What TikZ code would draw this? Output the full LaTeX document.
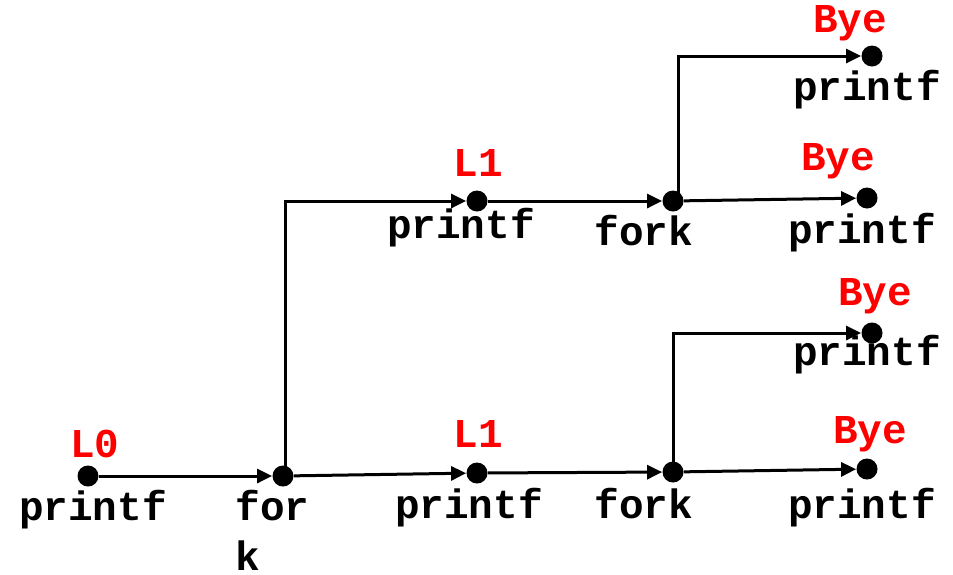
\documentclass[tikz,border=0pt]{standalone}
\usepackage{fontspec}
\setmonofont{Liberation Mono}
\usetikzlibrary{arrows.meta}
\tikzstyle{dot} = [circle, fill=black, draw=none, minimum size=10.5pt, inner sep=0pt]
\tikzstyle{fn} = [inner sep=0pt, anchor=base, font=\ttfamily\bfseries\fontsize{20.5pt}{25pt}\selectfont]
\tikzstyle{msg} = [fn, text=red]
\tikzstyle{arrow} = [line width=1.5pt, -{Triangle[length=7.5pt,width=7pt]}]

\begin{document}
\begin{tikzpicture}[x=0.5pt, y=-0.5pt]
\useasboundingbox (0,0) rectangle (953,574);

% dots
\node (p0) [dot] at (88,476) {};
\node (fk0) [dot] at (283,476) {};
\node (l1b) [dot] at (477,473) {};
\node (fkb) [dot] at (673,472) {};
\node (bye4) [dot] at (867,469) {};
\node (bye3) [dot] at (872,333) {};
\node (l1u) [dot] at (477,201) {};
\node (fku) [dot] at (673,201) {};
\node (bye2) [dot] at (867,198) {};
\node (bye1) [dot] at (872,56) {};

% labels
\node (t0) [msg] at (95,457) {L0};
\node (f0) [fn] at (93,520) {printf};
\node (f1) [fn, anchor=base west, align=left] at (235,570) {for\\k};
\node (t1b) [msg] at (478,447) {L1};
\node (f2b) [fn] at (469,518) {printf};
\node (f3b) [fn] at (644,518) {fork};
\node (t1u) [msg] at (478,176) {L1};
\node (f2u) [fn] at (461,238) {printf};
\node (f3u) [fn] at (644,245) {fork};
\node (t4) [msg] at (850,32) {Bye};
\node (f4) [fn] at (867,100) {printf};
\node (t5) [msg] at (838,170) {Bye};
\node (f5) [fn] at (862,243) {printf};
\node (t6) [msg] at (875,305) {Bye};
\node (f6) [fn] at (867,365) {printf};
\node (t7) [msg] at (870,443) {Bye};
\node (f7) [fn] at (862,518) {printf};

%arrows
\draw [arrow] (p0) -- (fk0);
\draw [arrow] (fk0) -- (l1b);
\draw [arrow] ([xshift=1pt]fk0.center) |- (l1u);
\draw [arrow] (l1u) -- (fku);
\draw [arrow] (fku) -- (bye2);
\draw [arrow] ([xshift=2.5pt]fku.center) |- (bye1);
\draw [arrow] (l1b) -- (fkb);
\draw [arrow] (fkb) -- (bye4);
\draw [arrow] (fkb.center) |- (bye3);
\end{tikzpicture}
\end{document}
